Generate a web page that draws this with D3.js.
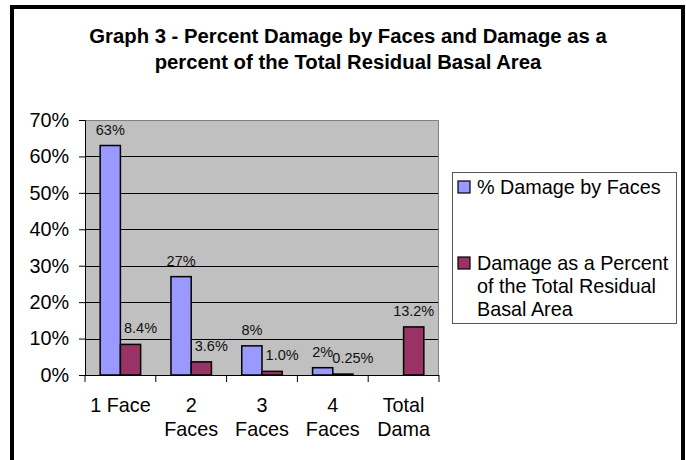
<!DOCTYPE html>
<html>
<head>
<meta charset="utf-8">
<script src="https://cdn.jsdelivr.net/npm/d3@7"></script>
<style>
  html, body { margin: 0; padding: 0; background: #fff; }
  svg { display: block; }
  text { font-family: "Liberation Sans", Arial, sans-serif; }
</style>
</head>
<body>
<svg id="chart" width="686" height="460"></svg>
<script>
// ---- data ----
const categories = ["1 Face", "2 Faces", "3 Faces", "4 Faces", "Total Damage"];
const tickLabels = [["1 Face"], ["2", "Faces"], ["3", "Faces"], ["4", "Faces"], ["Total", "Dama"]];
const seriesNames = ["% Damage by Faces", "Damage as a Percent of the Total Residual Basal Area"];
const damageByFaces = [0.63, 0.27, 0.08, 0.02, null];
const damageByFacesLabels = ["63%", "27%", "8%", "2%", null];
const damageOfBasal = [0.084, 0.036, 0.010, 0.0025, 0.132];
const damageOfBasalLabels = ["8.4%", "3.6%", "1.0%", "0.25%", "13.2%"];
const yTicks = [0, 0.1, 0.2, 0.3, 0.4, 0.5, 0.6, 0.7];
const titleLines = ["Graph 3 - Percent Damage by Faces and Damage as a", "percent of the Total Residual Basal Area"];
const legendLines = [["% Damage by Faces"], ["Damage as a Percent", "of the Total Residual", "Basal Area"]];

// ---- layout ----
const colors = ["#9999FF", "#993366"];
const svg = d3.select("#chart");
const plot = { left: 85, right: 439, top: 120, bottom: 375 };
const bigFont = 19.8;

// outer frame
svg.append("rect").attr("x", 12).attr("y", 7).attr("width", 671).attr("height", 470)
  .attr("fill", "#fff").attr("stroke", "#000").attr("stroke-width", 4);

// title
svg.append("text").attr("text-anchor", "middle").attr("font-weight", "bold")
  .attr("font-size", 20.3).attr("fill", "#000")
  .selectAll("tspan").data(titleLines).join("tspan")
  .attr("x", 348).attr("y", (d, i) => 43 + i * 25.5).text(d => d);

const x = d3.scaleBand().domain(categories).range([plot.left, plot.right]).paddingInner(0).paddingOuter(0);
const y = d3.scaleLinear().domain([0, 0.7]).range([plot.bottom, plot.top]);

// plot background
svg.append("rect").attr("x", plot.left).attr("y", plot.top)
  .attr("width", plot.right - plot.left).attr("height", plot.bottom - plot.top)
  .attr("fill", "#C0C0C0");

// gridlines
svg.append("g").selectAll("line").data(yTicks.filter(t => t > 0 && t < 0.7)).join("line")
  .attr("x1", plot.left).attr("x2", plot.right)
  .attr("y1", d => Math.round(y(d)) + 0.5).attr("y2", d => Math.round(y(d)) + 0.5)
  .attr("stroke", "#000").attr("stroke-width", 1);

// plot border (top/right gray)
svg.append("path")
  .attr("d", `M${plot.left},${plot.top + 0.5}H${plot.right - 0.5}V${plot.bottom}`)
  .attr("fill", "none").attr("stroke", "#808080").attr("stroke-width", 1);

// bars
const bw = x.bandwidth() / 3.5;
const gap = x.bandwidth() * 1.5 / 3.5 / 2;
const series = [damageByFaces, damageOfBasal];
series.forEach((vals, s) => {
  svg.append("g").selectAll("rect").data(categories.map((c, i) => ({ c, v: vals[i] })).filter(d => d.v != null))
    .join("rect")
    .attr("x", d => x(d.c) + gap + s * bw)
    .attr("y", d => y(d.v))
    .attr("width", bw)
    .attr("height", d => y(0) - y(d.v))
    .attr("fill", colors[s]).attr("stroke", "#000").attr("stroke-width", 1.5);
});

// data labels
const labelSets = [damageByFacesLabels, damageOfBasalLabels];
labelSets.forEach((labels, s) => {
  svg.append("g").selectAll("text")
    .data(categories.map((c, i) => ({ c, i, v: series[s][i], t: labels[i] })).filter(d => d.v != null))
    .join("text")
    .attr("x", d => {
      const cx = x(d.c) + gap + s * bw + bw / 2;
      // second series label nudged right when a neighbouring bar label exists
      return (s === 1 && damageByFaces[d.i] != null) ? cx + 10 : cx;
    })
    .attr("y", d => y(d.v) - 11)
    .attr("text-anchor", "middle").attr("font-size", 14.5).attr("fill", "#111")
    .text(d => d.t);
});

// y axis
const yAxis = svg.append("g").attr("transform", `translate(${plot.left},0)`)
  .call(d3.axisLeft(y).tickValues(yTicks).tickFormat(d3.format(".0%")).tickSize(6).tickPadding(10));
yAxis.select(".domain").attr("stroke", "#000");
yAxis.selectAll(".tick line").attr("stroke", "#000");
yAxis.selectAll("text").attr("font-size", bigFont).attr("fill", "#000")
  .attr("font-family", '"Liberation Sans", Arial, sans-serif');

// x axis
const xAxis = svg.append("g").attr("transform", `translate(0,${plot.bottom})`);
xAxis.append("line").attr("x1", plot.left).attr("x2", plot.right).attr("y1", 0.5).attr("y2", 0.5)
  .attr("stroke", "#000");
const edges = categories.map(c => x(c)).concat([plot.right]);
xAxis.selectAll("line.tk").data(edges).join("line").attr("class", "tk")
  .attr("x1", d => d).attr("x2", d => d).attr("y1", 0).attr("y2", 7).attr("stroke", "#000");
xAxis.selectAll("text.cat").data(categories).join("text").attr("class", "cat")
  .attr("text-anchor", "middle").attr("font-size", bigFont).attr("fill", "#000")
  .each(function (c, i) {
    d3.select(this).selectAll("tspan").data(tickLabels[i]).join("tspan")
      .attr("x", x(c) + x.bandwidth() / 2)
      .attr("y", (d, j) => 37 + j * 23.5)
      .text(d => d);
  });

// legend
const lg = svg.append("g");
lg.append("rect").attr("x", 452.5).attr("y", 172.5).attr("width", 224).attr("height", 151)
  .attr("fill", "#fff").attr("stroke", "#555").attr("stroke-width", 1);
const entryTop = [194, 270];
legendLines.forEach((lines, s) => {
  lg.append("rect").attr("x", 458).attr("y", entryTop[s] - 13).attr("width", 12).attr("height", 12)
    .attr("fill", colors[s]).attr("stroke", "#000").attr("stroke-width", 1.2);
  lg.append("text").attr("font-size", bigFont).attr("fill", "#000")
    .selectAll("tspan").data(lines).join("tspan")
    .attr("x", 477).attr("y", (d, j) => entryTop[s] + j * 23)
    .text(d => d);
});
</script>
</body>
</html>
